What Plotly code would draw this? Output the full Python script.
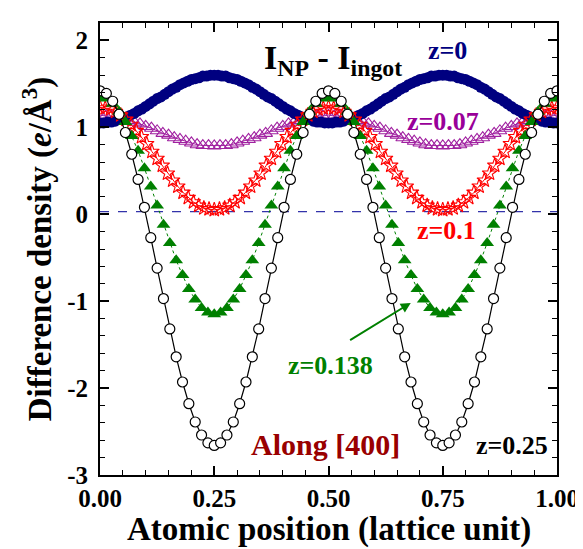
import plotly.graph_objects as go

# ---- data (difference density vs atomic position) ----
z0_vals = [1.05,1.05,1.06,1.06,1.07,1.09,1.10,1.12,1.14,1.16,1.19,1.21,1.24,1.27,1.30,1.33,1.35,1.38,1.41,1.44,1.46,1.49,1.51,1.53,1.55,1.56,1.57,1.59,1.59,1.60,1.60,
           1.60,1.59,1.59,1.57,1.56,1.55,1.53,1.51,1.49,1.46,1.44,1.41,1.38,1.35,1.33,1.30,1.27,1.24,1.21,1.19,1.16,1.14,1.12,1.10,1.09,1.07,1.06,1.06,1.05,1.05,
           1.05,1.06,1.06,1.07,1.09,1.10,1.12,1.14,1.16,1.19,1.21,1.24,1.27,1.30,1.33,1.35,1.38,1.41,1.44,1.46,1.49,1.51,1.53,1.55,1.56,1.57,1.59,1.59,1.60,1.60,
           1.60,1.59,1.59,1.57,1.56,1.55,1.53,1.51,1.49,1.46,1.44,1.41,1.38,1.35,1.33,1.30,1.27,1.24,1.21,1.19,1.16,1.14,1.12,1.10,1.09,1.07,1.06,1.06,1.05,1.05]

z007_vals = [1.14,1.13,1.13,1.12,1.10,1.08,1.06,1.04,1.01,0.99,0.96,0.93,0.91,0.88,0.86,0.84,0.82,0.80,0.79,0.79,0.785,
             0.79,0.79,0.80,0.82,0.84,0.86,0.88,0.91,0.93,0.96,0.99,1.01,1.04,1.06,1.08,1.10,1.12,1.13,1.13,1.14,
             1.13,1.13,1.12,1.10,1.08,1.06,1.04,1.01,0.99,0.96,0.93,0.91,0.88,0.86,0.84,0.82,0.80,0.79,0.79,0.785,
             0.79,0.79,0.80,0.82,0.84,0.86,0.88,0.91,0.93,0.96,0.99,1.01,1.04,1.06,1.08,1.10,1.12,1.13,1.13,1.14]

z01_vals = [1.23,1.22,1.21,1.18,1.14,1.09,1.03,0.96,0.89,0.81,0.72,0.64,0.56,0.47,0.39,0.32,0.25,0.19,0.14,0.10,0.07,0.06,0.05,
            0.06,0.07,0.10,0.14,0.19,0.25,0.32,0.39,0.47,0.56,0.64,0.72,0.81,0.89,0.96,1.03,1.09,1.14,1.18,1.21,1.22,1.23,
            1.22,1.21,1.18,1.14,1.09,1.03,0.96,0.89,0.81,0.72,0.64,0.56,0.47,0.39,0.32,0.25,0.19,0.14,0.10,0.07,0.06,0.05,
            0.06,0.07,0.10,0.14,0.19,0.25,0.32,0.39,0.47,0.56,0.64,0.72,0.81,0.89,0.96,1.03,1.09,1.14,1.18,1.21,1.22,1.23]

z0138_vals = [1.35,1.33,1.27,1.18,1.06,0.90,0.73,0.53,0.32,0.10,-0.12,-0.33,-0.53,-0.70,-0.86,-0.98,-1.08,-1.13,-1.15,
              -1.13,-1.08,-0.98,-0.86,-0.70,-0.53,-0.33,-0.12,0.10,0.32,0.53,0.73,0.90,1.06,1.18,1.27,1.33,1.35,
              1.33,1.27,1.18,1.06,0.90,0.73,0.53,0.32,0.10,-0.12,-0.33,-0.53,-0.70,-0.86,-0.98,-1.08,-1.13,-1.15,
              -1.13,-1.08,-0.98,-0.86,-0.70,-0.53,-0.33,-0.12,0.10,0.32,0.53,0.73,0.90,1.06,1.18,1.27,1.33,1.35]

z025_vals = [1.42,1.39,1.30,1.15,0.94,0.69,0.40,0.08,-0.27,-0.62,-0.97,-1.32,-1.64,-1.93,-2.18,-2.39,-2.54,-2.63,-2.66,
             -2.63,-2.54,-2.39,-2.18,-1.93,-1.64,-1.32,-0.97,-0.62,-0.27,0.08,0.40,0.69,0.94,1.15,1.30,1.39,1.42,
             1.39,1.30,1.15,0.94,0.69,0.40,0.08,-0.27,-0.62,-0.97,-1.32,-1.64,-1.93,-2.18,-2.39,-2.54,-2.63,-2.66,
             -2.63,-2.54,-2.39,-2.18,-1.93,-1.64,-1.32,-0.97,-0.62,-0.27,0.08,0.40,0.69,0.94,1.15,1.30,1.39,1.42]

y_tick_vals = [-3, -2, -1, 0, 1, 2]
y_tick_text = ["-3", "-2", "-1", "0", "1", "2"]
x_tick_vals = [0.0, 0.25, 0.5, 0.75, 1.0]
x_tick_text = ["0.00", "0.25", "0.50", "0.75", "1.00"]
zero_level = 0.03


def grid(vals):
    n = len(vals) - 1
    return [i / n for i in range(n + 1)]


FONT = "'Liberation Serif', 'Times New Roman', Times, serif"
fig = go.Figure()

fig.add_trace(go.Scatter(x=grid(z007_vals), y=z007_vals, mode="lines+markers",
                         line=dict(color="#a020a0", width=1),
                         marker=dict(symbol="triangle-up-open", size=12, color="#a020a0",
                                     line=dict(width=1.1, color="#a020a0"))))
fig.add_trace(go.Scatter(x=grid(z0_vals), y=z0_vals, mode="markers",
                         marker=dict(symbol="circle", size=11, color="#000080",
                                     line=dict(width=0))))
fig.add_trace(go.Scatter(x=grid(z01_vals), y=z01_vals, mode="lines+markers",
                         line=dict(color="#ff0000", width=1),
                         marker=dict(symbol="star-open", size=11, color="#ff0000",
                                     line=dict(width=1.1, color="#ff0000"))))
fig.add_trace(go.Scatter(x=grid(z0138_vals), y=z0138_vals, mode="lines+markers",
                         line=dict(color="#008000", width=1, dash="dot"),
                         marker=dict(symbol="triangle-up", size=12, color="#008000",
                                     line=dict(width=0))))
fig.add_trace(go.Scatter(x=grid(z025_vals), y=z025_vals, mode="lines+markers",
                         line=dict(color="black", width=1.2),
                         marker=dict(symbol="circle", size=10, color="white",
                                     line=dict(width=1.2, color="black"))))

fig.add_shape(type="line", xref="paper", x0=0, x1=1, yref="y", y0=zero_level, y1=zero_level,
              line=dict(color="#3333aa", width=1.2, dash="dash"), layer="below")

def ann(text, x, y, color, size):
    fig.add_annotation(x=x, y=y, xref="x", yref="y", text=text, showarrow=False,
                       font=dict(family=FONT, size=size, color=color, weight="bold"))

ann("I<sub>NP</sub> - I<sub>ingot</sub>", 0.51, 1.78, "black", 34)
ann("z=0", 0.761, 1.88, "#000080", 26)
ann("z=0.07", 0.75, 1.07, "#990099", 26)
ann("z=0.1", 0.759, -0.19, "#ff0000", 26)
ann("z=0.138", 0.505, -1.745, "#008000", 26)
ann("Along [400]", 0.494, -2.645, "#990000", 30)
ann("z=0.25", 0.901, -2.656, "black", 26)

fig.add_annotation(x=0.680, y=-1.02, ax=0.544, ay=-1.46, xref="x", yref="y", axref="x", ayref="y",
                   showarrow=True, arrowhead=2, arrowsize=1, arrowwidth=2, arrowcolor="#008000", text="")

# x-axis title (placed as paper annotation so it stays inside the canvas)
fig.add_annotation(x=0.5, y=-0.165, xref="paper", yref="paper", xanchor="center", yanchor="bottom",
                   text="Atomic position (lattice unit)", showarrow=False,
                   font=dict(family=FONT, size=33, color="black", weight="bold"))

axis_common = dict(showline=True, linewidth=2, linecolor="black", mirror="ticks",
                   ticks="inside", ticklen=9, tickwidth=1.5, tickcolor="black",
                   showgrid=False, zeroline=False,
                   tickfont=dict(family=FONT, size=25, color="black", weight="bold"))

fig.update_xaxes(range=[0, 1], tickmode="array", tickvals=x_tick_vals, ticktext=x_tick_text,
                 minor=dict(dtick=0.05, ticks="inside", ticklen=5, tickwidth=1.2, tickcolor="black"),
                 **axis_common)
fig.update_yaxes(range=[-3, 2.2], tickmode="array", tickvals=y_tick_vals, ticktext=y_tick_text,
                 ticklabelstandoff=5,
                 minor=dict(dtick=0.2, tick0=0, ticks="inside", ticklen=5, tickwidth=1.2, tickcolor="black"),
                 title=dict(text="Difference density (<i>e</i>/Å<sup>3</sup>)", standoff=6,
                            font=dict(family=FONT, size=33, color="black", weight="bold")),
                 **axis_common)

fig.update_layout(width=583, height=549, margin=dict(l=92, r=26, t=15, b=82),
                  plot_bgcolor="white", paper_bgcolor="white", showlegend=False,
                  font=dict(family=FONT, color="black"))

fig.write_html("out.html")
